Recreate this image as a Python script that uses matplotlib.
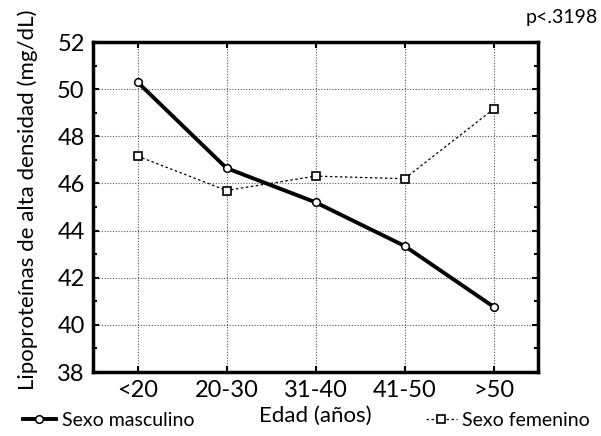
import matplotlib
matplotlib.use("Agg")
import matplotlib.pyplot as plt
from matplotlib.ticker import MultipleLocator

plt.rcParams['font.family'] = ['Lato', 'DejaVu Sans']

categories = ['<20', '20-30', '31-40', '41-50', '>50']
masculino = [50.3, 46.65, 45.2, 43.35, 40.77]
femenino = [47.16, 45.7, 46.31, 46.2, 49.15]

fig = plt.figure(figsize=(6.01, 4.36), dpi=100)
ax = fig.add_axes([93/601, 1-372/436, (538-93)/601, (372-42)/436])

x = list(range(len(categories)))
l1, = ax.plot(x, masculino, color='black', lw=2.8, marker='o', ms=5.5,
              mfc='white', mec='black', mew=1.1, zorder=4)
l2, = ax.plot(x, femenino, color='black', lw=0.9, ls=(0, (2, 2)), marker='s', ms=5.5,
              mfc='white', mec='black', mew=1.2, zorder=3)

ax.set_xlim(-0.5, 4.5)
ax.set_ylim(38, 52)
ax.set_xticks(x)
ax.set_xticklabels(categories, fontsize=17)
ax.yaxis.set_major_locator(MultipleLocator(2))
ax.yaxis.set_minor_locator(MultipleLocator(1))
ax.tick_params(axis='y', labelsize=17)
ax.tick_params(which='both', direction='in', top=True, right=True, length=4, width=1.5,
               color='black', pad=6)
ax.tick_params(which='minor', length=3)
ax.grid(True, which='major', color='#555555', ls=(0, (1, 1.5)), lw=0.8)
for s in ax.spines.values():
    s.set_linewidth(2.5)

ax.set_xlabel('Edad (años)', fontsize=16, labelpad=3)
fig.text(28/601, 1-200/436, 'Lipoproteínas de alta densidad (mg/dL)', rotation=90,
         ha='center', va='center', fontsize=16)

fig.text(0.995, 0.96, 'p<.3198', ha='right', va='center', fontsize=14)

fig.legend([l1], ['Sexo masculino'], loc='center left', bbox_to_anchor=(0.025, 0.035),
           frameon=False, fontsize=14, handlelength=1.7, handletextpad=0.3, borderaxespad=0)
fig.legend([l2], ['Sexo femenino'], loc='center right', bbox_to_anchor=(0.995, 0.035),
           frameon=False, fontsize=14, handlelength=1.6, handletextpad=0.3, borderaxespad=0)

fig.savefig('out.png', dpi=100)
